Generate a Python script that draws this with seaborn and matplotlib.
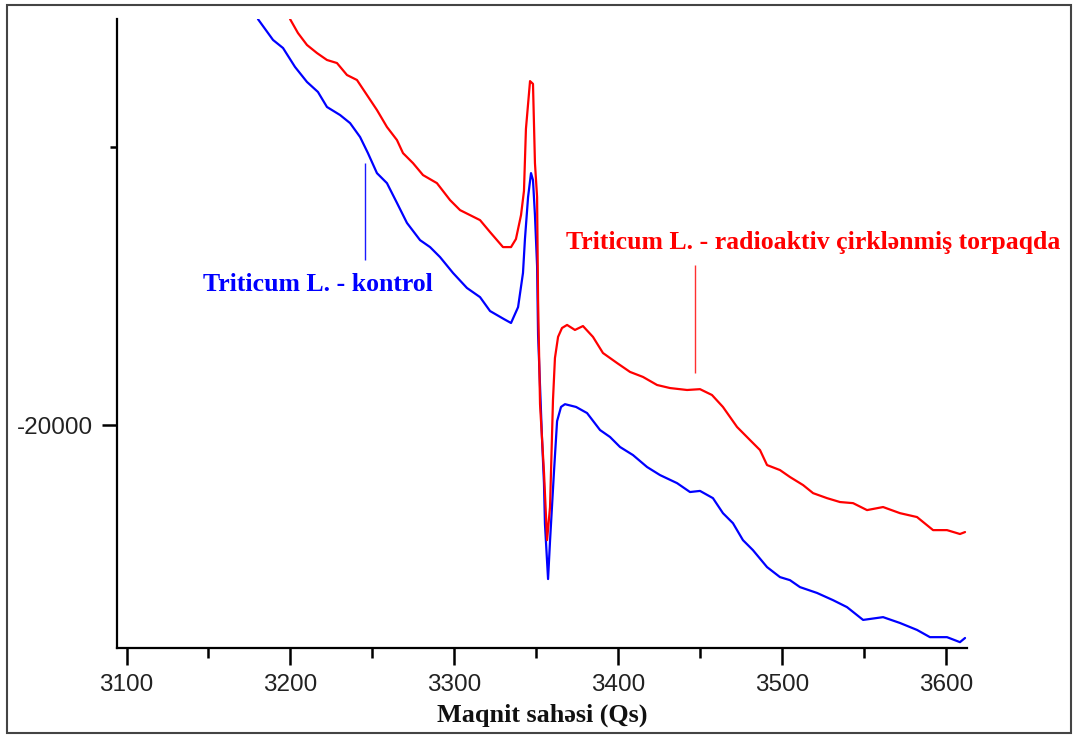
import numpy as np
import pandas as pd
import seaborn as sns
import matplotlib.pyplot as plt
from matplotlib.patches import Rectangle
from matplotlib.ticker import MultipleLocator

# field (Qs) and signal values
kontrol_field = [3180.2, 3189.4, 3195.5, 3202.8, 3210.1, 3216.8, 3222.3, 3230.3, 3236.4, 3242.5,
                 3247.3, 3252.8, 3258.9, 3265.0, 3271.1, 3279.1, 3285.2, 3291.3, 3299.2, 3307.7,
                 3315.7, 3321.8, 3330.3, 3334.6, 3338.9, 3341.9, 3343.1, 3345.0, 3346.8, 3348.0,
                 3349.2, 3350.5, 3351.1, 3352.3, 3353.5, 3354.7, 3355.3, 3357.2, 3358.4, 3360.8,
                 3362.7, 3365.1, 3367.5, 3374.3, 3381.0, 3388.9, 3395.0, 3401.1, 3409.0, 3417.6,
                 3425.5, 3435.9, 3443.8, 3449.9, 3457.8, 3463.9, 3470.0, 3476.1, 3482.2, 3490.8,
                 3498.7, 3504.8, 3510.9, 3521.3, 3531.1, 3539.6, 3549.4, 3561.6, 3571.9, 3582.3,
                 3590.2, 3600.6, 3608.5, 3611.6]
kontrol_signal = [-5400, -6150, -6440, -7120, -7660, -8020, -8560, -8850, -9140, -9640,
                  -10220, -10940, -11300, -12010, -12730, -13350, -13600, -13960, -14530, -15070,
                  -15400, -15900, -16190, -16330, -15760, -14530, -13310, -11800, -10940, -11190,
                  -12450, -14280, -16760, -18600, -20470, -22090, -23560, -25540, -24170, -21690,
                  -19860, -19350, -19250, -19350, -19570, -20180, -20430, -20790, -21080, -21510,
                  -21800, -22090, -22410, -22370, -22630, -23170, -23530, -24140, -24500, -25110,
                  -25470, -25580, -25830, -26040, -26300, -26550, -27010, -26910, -27120, -27370,
                  -27630, -27630, -27810, -27660]

radio_field = [3199.8, 3204.6, 3210.1, 3216.2, 3222.3, 3228.4, 3234.5, 3240.6, 3246.7, 3252.8,
               3258.9, 3265.0, 3268.7, 3274.8, 3280.9, 3289.4, 3297.4, 3303.5, 3309.6, 3315.7,
               3321.8, 3329.7, 3334.6, 3337.6, 3340.7, 3342.5, 3343.7, 3346.2, 3348.0, 3349.2,
               3350.5, 3351.1, 3352.3, 3354.7, 3356.6, 3358.4, 3360.2, 3361.4, 3363.3, 3365.7,
               3368.8, 3373.6, 3378.5, 3384.6, 3390.7, 3399.3, 3407.2, 3415.1, 3423.7, 3431.6,
               3442.0, 3449.9, 3457.2, 3463.9, 3472.5, 3480.4, 3486.5, 3490.8, 3498.7, 3504.8,
               3512.8, 3518.9, 3527.4, 3535.3, 3543.3, 3551.8, 3561.6, 3571.9, 3582.3, 3592.1,
               3600.6, 3608.5, 3611.6]
radio_signal = [-5400, -5900, -6330, -6620, -6870, -6980, -7410, -7590, -8130, -8670,
                -9280, -9750, -10220, -10580, -11010, -11300, -11910, -12270, -12450, -12630,
                -13060, -13600, -13600, -13310, -12450, -11580, -9350, -7630, -7730, -10580,
                -11800, -15500, -19250, -21690, -24140, -22950, -19100, -17590, -16830, -16510,
                -16400, -16580, -16440, -16830, -17410, -17770, -18090, -18270, -18560, -18670,
                -18740, -18710, -18920, -19350, -20070, -20540, -20900, -21440, -21620, -21870,
                -22160, -22450, -22630, -22770, -22810, -23060, -22950, -23170, -23310, -23780,
                -23780, -23920, -23850]

kontrol_label = "Triticum L. - kontrol"
radio_label = "Triticum L. - radioaktiv çirklənmiş torpaqda"
x_title = "Maqnit sahəsi (Qs)"

# label anchors and leader lines (field, signal)
kontrol_text_at = (3216.5, -14930)
radio_text_at = (3519.0, -13450)
kontrol_leader = (3245.5, -10580, -14070)
radio_leader = (3447.0, -14250, -18130)

sns.set_style("white")
plt.rcParams['font.family'] = ['Liberation Sans', 'DejaVu Sans']
plt.rcParams['axes.unicode_minus'] = False

df_k = pd.DataFrame({'field': kontrol_field, 'signal': kontrol_signal})
df_r = pd.DataFrame({'field': radio_field, 'signal': radio_signal})

fig = plt.figure(figsize=(10.73, 7.35), dpi=100)
ax = fig.add_axes([117 / 1073, 1 - 648 / 735, 850 / 1073, 629 / 735])

sns.lineplot(data=df_k, x='field', y='signal', color='#0000FF', linewidth=1.6,
             estimator=None, sort=False, ax=ax)
sns.lineplot(data=df_r, x='field', y='signal', color='#FF0000', linewidth=1.6,
             estimator=None, sort=False, ax=ax)

ax.set_xlim(3094.2, 3612.8)
ax.set_ylim(-28020, -5396)

ax.xaxis.set_major_locator(MultipleLocator(100))
ax.xaxis.set_minor_locator(MultipleLocator(50))
ax.yaxis.set_major_locator(MultipleLocator(20000))
ax.yaxis.set_minor_locator(MultipleLocator(10000))

for s in ['top', 'right']:
    ax.spines[s].set_visible(False)
for s in ['left', 'bottom']:
    ax.spines[s].set_linewidth(1.6)
    ax.spines[s].set_color('black')

ax.tick_params(axis='x', which='both', bottom=True)
ax.tick_params(axis='y', which='both', left=True)
ax.tick_params(axis='x', which='major', direction='out', length=12, width=1.8,
               labelsize=17.5, pad=7, color='black')
ax.tick_params(axis='x', which='minor', direction='out', length=7, width=1.8, color='black')
ax.tick_params(axis='y', which='major', direction='out', length=11, width=1.8,
               labelsize=17.5, pad=6, color='black')
ax.tick_params(axis='y', which='minor', direction='out', length=5, width=1.8, color='black')
ax.tick_params(axis='both', labelcolor='#222222')

ax.set_ylabel('')
ax.set_xlabel(x_title, fontsize=18.8, fontweight='bold', labelpad=5,
              family=['Liberation Serif', 'DejaVu Serif'], color='#111111')

ax.text(*kontrol_text_at, kontrol_label, color='#0000FF', fontsize=18.5, fontweight='bold',
        family=['Liberation Serif', 'DejaVu Serif'], ha='center', va='center')
ax.text(*radio_text_at, radio_label, color='#FF0000', fontsize=18.5, fontweight='bold',
        family=['Liberation Serif', 'DejaVu Serif'], ha='center', va='center', clip_on=False)

ax.vlines(kontrol_leader[0], kontrol_leader[2], kontrol_leader[1], color='#1a1aff', linewidth=1.0)
ax.vlines(radio_leader[0], radio_leader[2], radio_leader[1], color='#ff3030', linewidth=1.0)

# outer frame around the whole picture
fig.patches.append(Rectangle((7 / 1073, 2 / 735), 1064 / 1073, 728 / 735,
                             transform=fig.transFigure, fill=False,
                             edgecolor='#444444', linewidth=1.5))

fig.savefig('out.png', dpi=100)
